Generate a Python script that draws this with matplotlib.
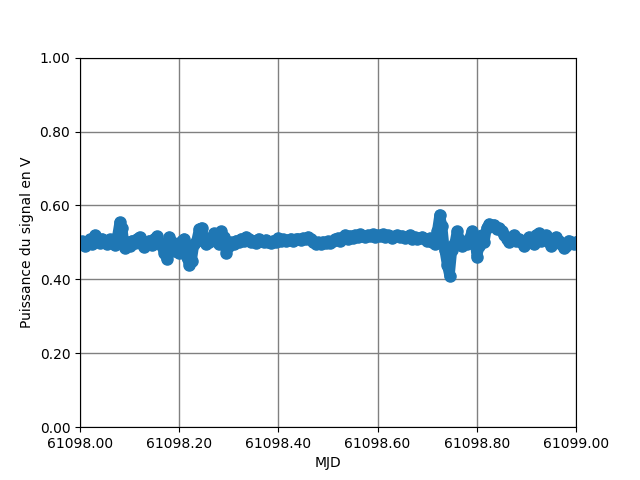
import numpy as np
import matplotlib
matplotlib.use("Agg")
import matplotlib.pyplot as plt
from matplotlib.ticker import FormatStrFormatter

# MJD start and sampling step (days)
mjd_start = 61098.0
mjd_step = 0.005

# signal power (V), one value per step
puissance = [
    0.495, 0.503, 0.490, 0.500, 0.508, 0.497, 0.520, 0.505, 0.498, 0.510,
    0.500, 0.495, 0.508, 0.500, 0.492, 0.515, 0.555, 0.540, 0.485, 0.500,
    0.490, 0.505, 0.498, 0.510, 0.515, 0.495, 0.488, 0.500, 0.505, 0.493,
    0.510, 0.517, 0.500, 0.490, 0.470, 0.455, 0.515, 0.500, 0.478, 0.495,
    0.470, 0.505, 0.510, 0.460, 0.440, 0.450, 0.495, 0.505, 0.535, 0.540,
    0.510, 0.495, 0.500, 0.510, 0.525, 0.505, 0.495, 0.530, 0.515, 0.470,
    0.490, 0.500, 0.495, 0.505, 0.500, 0.510, 0.503, 0.515, 0.508, 0.500,
    0.505, 0.498, 0.510, 0.505, 0.500, 0.507, 0.502, 0.498, 0.505, 0.500,
    0.512, 0.505, 0.508, 0.503, 0.507, 0.510, 0.505, 0.508, 0.510, 0.506,
    0.512, 0.508, 0.515, 0.510, 0.500, 0.495, 0.500, 0.497, 0.502, 0.498,
    0.503, 0.498, 0.505, 0.508, 0.512, 0.505, 0.515, 0.520, 0.510, 0.518,
    0.512, 0.520, 0.515, 0.522, 0.518, 0.515, 0.520, 0.517, 0.522, 0.515,
    0.520, 0.518, 0.522, 0.515, 0.520, 0.518, 0.512, 0.517, 0.520, 0.515,
    0.518, 0.512, 0.515, 0.520, 0.510, 0.515, 0.508, 0.512, 0.515, 0.510,
    0.505, 0.512, 0.500, 0.495, 0.530, 0.575, 0.545, 0.480, 0.440, 0.410,
    0.480, 0.495, 0.530, 0.510, 0.490, 0.500, 0.495, 0.510, 0.530, 0.520,
    0.460, 0.490, 0.520, 0.500, 0.540, 0.550, 0.545, 0.548, 0.535, 0.540,
    0.530, 0.520, 0.510, 0.500, 0.515, 0.520, 0.505, 0.510, 0.500, 0.490,
    0.505, 0.515, 0.500, 0.495, 0.520, 0.525, 0.505, 0.510, 0.520, 0.500,
    0.490, 0.500, 0.515, 0.505, 0.495, 0.485, 0.490, 0.505, 0.500, 0.495,
    0.500,
]

mjd = mjd_start + mjd_step * np.arange(len(puissance))

fig, ax = plt.subplots(figsize=(6.4, 4.8), dpi=100)
ax.plot(mjd, puissance, "o-", color="C0", linewidth=7.5, markersize=8)

ax.set_xlim(61098.0, 61099.0)
ax.set_ylim(0, 1)
ax.xaxis.set_major_formatter(FormatStrFormatter("%.2f"))
ax.yaxis.set_major_formatter(FormatStrFormatter("%.2f"))
ax.grid(color="gray", linewidth=1)

ax.set_xlabel("MJD")
ax.set_ylabel("Puissance du signal en V")

fig.savefig("out.png")
